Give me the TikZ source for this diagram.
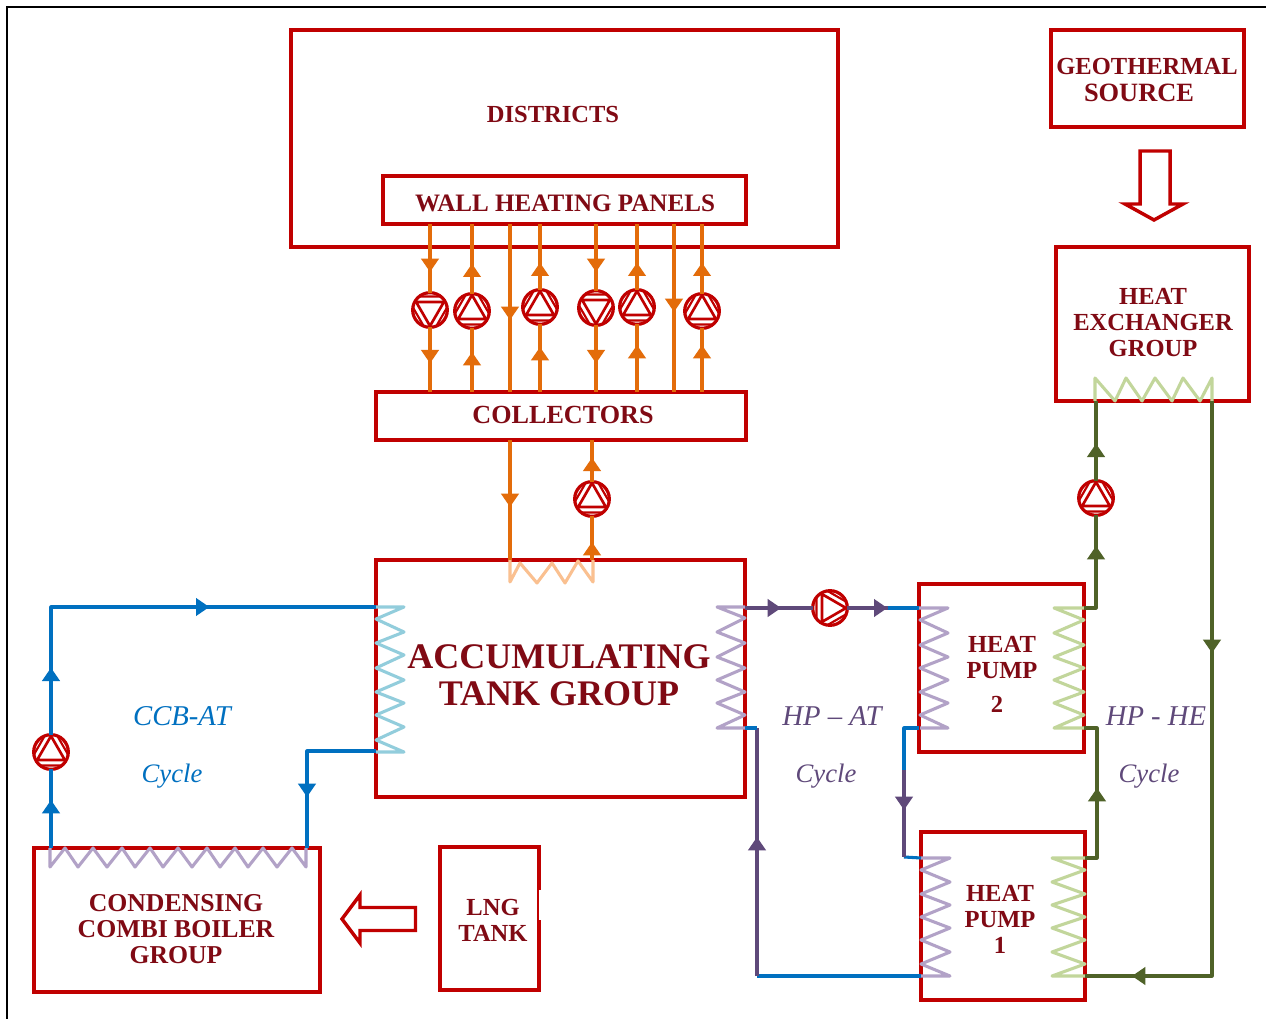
\documentclass[tikz,border=0pt]{standalone}
\usepackage{fontspec}
\setmainfont{Liberation Serif}
\usetikzlibrary{shapes.geometric,arrows.meta,decorations.markings}
\definecolor{boxred}{HTML}{C00000}
\definecolor{txtred}{HTML}{800A14}
\definecolor{pipeorange}{HTML}{E36C0A}
\definecolor{pipeblue}{HTML}{0070C0}
\definecolor{pipepurple}{HTML}{5F497A}
\definecolor{pipegreen}{HTML}{4F6228}
\definecolor{coilorange}{HTML}{FAC090}
\definecolor{coilaqua}{HTML}{92CDDC}
\definecolor{coillilac}{HTML}{B2A2C7}
\definecolor{coilgreen}{HTML}{C2D69B}
\tikzset{
  x=0.75pt,y=-0.75pt,
  box/.style={draw=boxred,line width=2.3pt,rectangle,inner sep=0pt,outer sep=0pt},
  lbl/.style={text=txtred,font=\fontsize{18.4pt}{19.5pt}\selectfont\bfseries,align=center,inner sep=0pt},
  cyc/.style={font=\fontsize{21.5pt}{23pt}\selectfont\itshape,inner sep=0pt},
  cycb/.style={font=\fontsize{20pt}{22pt}\selectfont\itshape,inner sep=0pt},
  pipe/.style={line width=2.3pt,line join=round},
  coil/.style={line width=2.3pt,line join=round},
  flow/.style={postaction={decorate,decoration={markings,mark=at position #1*0.75pt with {\arrow{Triangle[length=10pt,width=13pt]}}}}},
  pumpbody/.style={circle,draw=boxred,fill=white,line width=2.4pt,minimum size=26pt,inner sep=0pt,outer sep=0pt},
  pumptri/.style={regular polygon,regular polygon sides=3,draw=boxred,line width=2pt,minimum size=24pt,inner sep=0pt,outer sep=0pt},
  pumpchord/.style={regular polygon,regular polygon sides=3,draw=boxred,line width=1.6pt,minimum size=40.5pt,inner sep=0pt,outer sep=0pt},
  blockarrow/.style={draw=boxred,line width=2.6pt,fill=white,line join=miter}
}
\newcommand\pumpnode[3]{%
  \node[pumpbody] (#1) at (#2) {};
  \begin{scope}
    \clip (#2) circle (18);
    \node[pumpchord,regular polygon rotate=#3] (#1c) at (#2) {};
    \node[pumptri,regular polygon rotate=#3] (#1t) at (#2) {};
  \end{scope}
}
\begin{document}
\begin{tikzpicture}
\useasboundingbox (0,0) rectangle (1266,1019);
\fill[white] (0,0) rectangle (1266,1019);
% frame
\coordinate (fa) at (7,1019); \coordinate (fb) at (7,7); \coordinate (fc) at (1266,7);
\draw[black,line width=1.2pt] (fa) -- (fb) -- (fc);
% boxes
\node[box,minimum width=547*0.75pt,minimum height=217*0.75pt] (districts) at (564.5,138.5) {};
\node[box,minimum width=363*0.75pt,minimum height=48*0.75pt] (wall) at (564.5,200) {};
\node[box,minimum width=193*0.75pt,minimum height=97*0.75pt] (geo) at (1147.5,78.5) {};
\node[box,minimum width=193*0.75pt,minimum height=154*0.75pt] (hx) at (1152.5,324) {};
\node[box,minimum width=370*0.75pt,minimum height=48*0.75pt] (coll) at (561,416) {};
\node[box,minimum width=369*0.75pt,minimum height=237*0.75pt] (tank) at (560.5,678.5) {};
\node[box,minimum width=165*0.75pt,minimum height=168*0.75pt] (hp2) at (1001.5,668) {};
\node[box,minimum width=164*0.75pt,minimum height=168*0.75pt] (hp1) at (1003,916) {};
\node[box,minimum width=286*0.75pt,minimum height=144*0.75pt] (ccb) at (177,920) {};
\node[box,minimum width=99*0.75pt,minimum height=143*0.75pt] (lng) at (489.5,918.5) {};
\fill[white] (538.5,890) rectangle (543,920);
% labels
\node[lbl] (tdist) at (553,115) {DISTRICTS};
\node[lbl,font=\fontsize{18.8pt}{20pt}\selectfont\bfseries] (twall) at (565,203) {WALL HEATING PANELS};
\node[lbl] (tgeo) at (1147,66.5) {GEOTHERMAL};
\node[lbl,font=\fontsize{19.8pt}{20pt}\selectfont\bfseries] (tsrc) at (1139,92.5) {SOURCE};
\node[lbl] (thx) at (1153,323) {HEAT\\EXCHANGER\\GROUP};
\node[lbl,font=\fontsize{19.6pt}{21pt}\selectfont\bfseries] (tcoll) at (563,415) {COLLECTORS};
\node[lbl,font=\fontsize{27pt}{28pt}\selectfont\bfseries] (ttank) at (559,675) {ACCUMULATING\\TANK GROUP};
\node[lbl] (thp2a) at (1002,658) {HEAT\\PUMP};
\node[lbl] (thp2b) at (997,704) {2};
\node[lbl] (thp1) at (1000,919) {HEAT\\PUMP\\1};
\node[lbl,font=\fontsize{19.3pt}{19.5pt}\selectfont\bfseries] (tccb) at (176,929) {CONDENSING\\COMBI BOILER\\GROUP};
\node[lbl] (tlng) at (493,920) {LNG\\TANK};
\node[cyc,text=pipeblue] (c1) at (182,716) {CCB-AT};
\node[cycb,text=pipeblue] (c2) at (172,776) {Cycle};
\node[cyc,text=pipepurple] (c3) at (832,716) {HP -- AT};
\node[cycb,text=pipepurple] (c4) at (826,776) {Cycle};
\node[cyc,text=pipepurple] (c5) at (1156,716) {HP - HE};
\node[cycb,text=pipepurple] (c6) at (1149,776) {Cycle};
% block arrows
\draw[blockarrow] (1140,151) -- (1170,151) -- (1170,204) -- (1183,204) -- (1154,220) -- (1125,204) -- (1140,204) -- cycle;
\draw[blockarrow] (415.5,907.5) -- (415.5,930.5) -- (360,930.5) -- (360,943) -- (342,919) -- (360,895) -- (360,907.5) -- cycle;
% coils
\draw[coil,coilorange] (510,560) -- (510,582) -- (520,563) -- (537,583) -- (552,563) -- (565,583) -- (578,561) -- (593,582) -- (593,560);
\draw[coil,coillilac] (50,848) -- (50,867) -- (65,848) -- (78,867) -- (93,848) -- (107,867) -- (122,848) -- (135,867) -- (150,848) -- (163,867) -- (178,848) -- (192,867) -- (207,848) -- (220,867) -- (235,848) -- (248,867) -- (263,848) -- (277,867) -- (292,848) -- (306,867) -- (306,848);
\draw[coil,coilaqua] (376,607) -- (404,607) -- (376,619) -- (404,632) -- (376,643) -- (404,655) -- (376,668) -- (404,680) -- (376,692) -- (404,703) -- (376,715) -- (404,727) -- (376,740) -- (404,752) -- (376,752);
\draw[coil,coillilac] (745,607) -- (717,607) -- (745,618) -- (717,632) -- (745,643) -- (717,657) -- (745,668) -- (717,680) -- (745,692) -- (717,703) -- (745,715) -- (717,728) -- (745,728);
\draw[coil,coillilac] (919,608) -- (948,608) -- (920,620) -- (948,633) -- (920,645) -- (948,657) -- (920,668) -- (948,680) -- (920,692) -- (948,703) -- (920,715) -- (948,728) -- (920,728);
\draw[coil,coilgreen] (1084,608) -- (1054,608) -- (1084,620) -- (1054,633) -- (1084,645) -- (1054,657) -- (1084,668) -- (1054,680) -- (1084,692) -- (1054,703) -- (1084,715) -- (1054,728) -- (1084,728);
\draw[coil,coillilac] (921,858) -- (950,858) -- (921,870) -- (950,882) -- (921,894) -- (950,905) -- (921,917) -- (950,928) -- (921,940) -- (950,952) -- (921,964) -- (950,976) -- (921,976);
\draw[coil,coilgreen] (1085,858) -- (1052,858) -- (1085,870) -- (1052,882) -- (1085,894) -- (1052,905) -- (1085,917) -- (1052,928) -- (1085,940) -- (1052,952) -- (1085,964) -- (1052,976) -- (1085,976);
\draw[coil,coilgreen] (1095,401) -- (1095,378) -- (1115,401) -- (1126,378) -- (1142,401) -- (1155,378) -- (1172,401) -- (1183,378) -- (1200,401) -- (1212,378) -- (1212,401);
% pumps
\pumpnode{pa}{430,310}{180}
\pumpnode{pb}{472,311}{0}
\pumpnode{pc}{540,307}{0}
\pumpnode{pd}{596,308}{180}
\pumpnode{pe}{637,307}{0}
\pumpnode{pf}{702,311}{0}
\pumpnode{pg}{592,499}{0}
\pumpnode{ph}{51,752}{0}
\pumpnode{pi}{830,608}{-90}
\pumpnode{pj}{1096,498}{0}
% orange pipes, districts side
\draw[pipe,pipeorange,flow=48] (wall.south -| pa) -- (pa.north);
\draw[pipe,pipeorange,flow=36] (pa.south) -- (coll.north -| pa);
\draw[pipe,pipeorange,flow=40] (coll.north -| pb) -- (pb.south) ;
\draw[pipe,pipeorange,flow=30] (pb.north) -- (wall.south -| pb);
\draw[pipe,pipeorange,flow=96] (wall.south -| 510,0) -- (coll.north -| 510,0);
\draw[pipe,pipeorange,flow=45] (coll.north -| pc) -- (pc.south);
\draw[pipe,pipeorange,flow=27] (pc.north) -- (wall.south -| pc);
\draw[pipe,pipeorange,flow=48] (wall.south -| pd) -- (pd.north);
\draw[pipe,pipeorange,flow=38] (pd.south) -- (coll.north -| pd);
\draw[pipe,pipeorange,flow=47] (coll.north -| pe) -- (pe.south);
\draw[pipe,pipeorange,flow=27] (pe.north) -- (wall.south -| pe);
\draw[pipe,pipeorange,flow=88] (wall.south -| 674,0) -- (coll.north -| 674,0);
\draw[pipe,pipeorange,flow=47] (coll.north -| pf) -- (pf.south);
\draw[pipe,pipeorange,flow=31] (pf.north) -- (wall.south -| pf);
% orange pipes, tank side
\draw[pipe,pipeorange,flow=67] (coll.south -| 510,0) -- (tank.north -| 510,0);
\draw[pipe,pipeorange,flow=18] (tank.north -| pg) -- (pg.south);
\draw[pipe,pipeorange,flow=24] (pg.north) -- (coll.south -| pg);
% blue loop
\coordinate (ccbout) at (51,848);
\coordinate (ccbin) at (307,848);
\coordinate (tl1) at (376,607);
\coordinate (tl2) at (376,751);
\coordinate (c1a) at (51,607);
\coordinate (c1b) at (307,751);
\draw[pipe,pipeblue,flow=48] (ccbout) -- (ph.south);
\draw[pipe,pipeblue,flow=67,flow=286] (ph.north) -- (c1a) -- (tl1);
\draw[pipe,pipeblue,flow=115] (tl2) -- (c1b) -- (ccbin);
% HP-AT loop
\coordinate (tr1) at (745,608);
\coordinate (tr2) at (745,728);
\coordinate (h2l1) at (919,608);
\coordinate (h2l2) at (919,728);
\coordinate (h1l1) at (921,858);
\coordinate (h1l2) at (921,976);
\coordinate (pp) at (888,608);
\coordinate (pm) at (904,770);
\coordinate (pk) at (904,857);
\coordinate (pl) at (757,976);
\coordinate (pn) at (757,728);
\draw[pipe,pipepurple,flow=36] (tr1) -- (pi.west);
\draw[pipe,pipeblue] (pp) -- (h2l1);
\draw[pipe,pipepurple,flow=40] (pi.east) -- (pp);
\draw[pipe,pipeblue] (h2l2) -- (904,728) -- (pm);
\draw[pipe,pipeblue] (pk) -- (h1l1);
\draw[pipe,pipepurple,flow=40] (pm) -- (pk);
\draw[pipe,pipeblue] (h1l2) -- (pl);
\draw[pipe,pipepurple,flow=139] (pl) -- (pn);
\draw[pipe,pipeblue] (pn) -- (tr2);
% green loop
\coordinate (h2r1) at (1084,608);
\coordinate (h2r2) at (1084,728);
\coordinate (h1r1) at (1085,858);
\coordinate (h1r2) at (1085,976);
\coordinate (hxa) at (1096,401);
\coordinate (hxb) at (1212,401);
\draw[pipe,pipegreen,flow=74] (h2r1) -- (1096,608) -- (pj.south);
\draw[pipe,pipegreen,flow=37] (pj.north) -- (hxa);
\draw[pipe,pipegreen,flow=82] (h1r1) -- (1097,858) -- (1097,728) -- (h2r2);
\draw[pipe,pipegreen,flow=252,flow=655] (hxb) -- (1212,976) -- (h1r2);
\end{tikzpicture}
\end{document}
